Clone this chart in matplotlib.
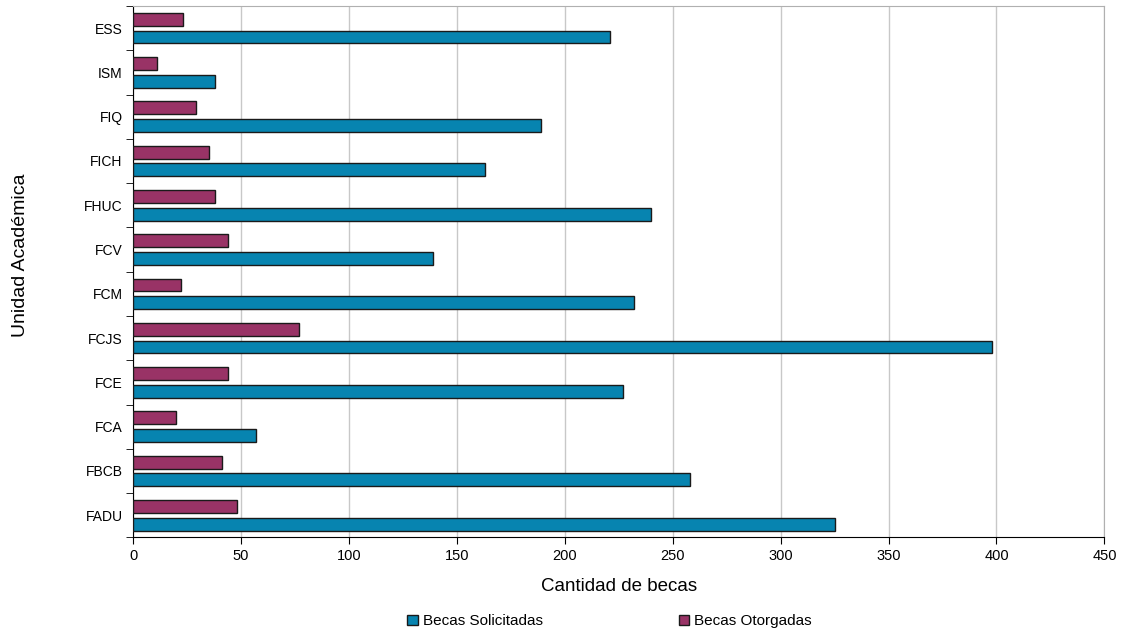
import matplotlib
matplotlib.use("Agg")
import matplotlib.pyplot as plt
import numpy as np

# data, bottom to top as drawn
unidades = ["FADU", "FBCB", "FCA", "FCE", "FCJS", "FCM", "FCV", "FHUC", "FICH", "FIQ", "ISM", "ESS"]
solicitadas = [325, 258, 57, 227, 398, 232, 139, 240, 163, 189, 38, 221]
otorgadas = [48, 41, 20, 44, 77, 22, 44, 38, 35, 29, 11, 23]

azul = "#0784b0"
morado = "#993366"

plt.rcParams["font.family"] = ["Liberation Sans", "DejaVu Sans"]

fig = plt.figure(figsize=(11.21, 6.30), dpi=100)
ax = fig.add_axes([0.1187, 0.147, 0.8665, 0.8435])

y = np.arange(len(unidades))
alto = 0.29
ax.barh(y - 0.2, solicitadas, height=alto, color=azul, edgecolor="#1a1a1a",
        linewidth=1.0, label="Becas Solicitadas", zorder=3)
ax.barh(y + 0.2, otorgadas, height=alto, color=morado, edgecolor="#1a1a1a",
        linewidth=1.0, label="Becas Otorgadas", zorder=3)

ax.set_xlim(0, 450)
ax.set_ylim(-0.5, len(unidades) - 0.5)
ax.set_xticks(np.arange(0, 451, 50))
ax.tick_params(axis="x", labelsize=10.5, length=5, pad=3)
ax.grid(axis="x", color="#c8c8c8", linewidth=1.0, zorder=0)

# category labels in the middle, tick marks on the borders
ax.set_yticks(y)
ax.set_yticklabels(unidades, fontsize=10)
ax.tick_params(axis="y", which="major", length=0, pad=7.5)
ax.set_yticks(np.arange(-0.5, len(unidades), 1), minor=True)
ax.tick_params(axis="y", which="minor", length=5)

for lado in ["top", "right"]:
    ax.spines[lado].set_color("#b0b0b0")
ax.spines["left"].set_color("black")
ax.spines["bottom"].set_color("black")

ax.set_xlabel("Cantidad de becas", fontsize=13.5, labelpad=11)
ax.set_ylabel("Unidad Académica", fontsize=14)
ax.yaxis.set_label_coords(-0.107, 0.53)

fig.legend(loc="lower center", bbox_to_anchor=(0.5437, -0.019), ncol=2, frameon=False,
           fontsize=11, handlelength=0.7, handleheight=0.7, handletextpad=0.3,
           columnspacing=8.9)

fig.savefig("out.png", dpi=100)
